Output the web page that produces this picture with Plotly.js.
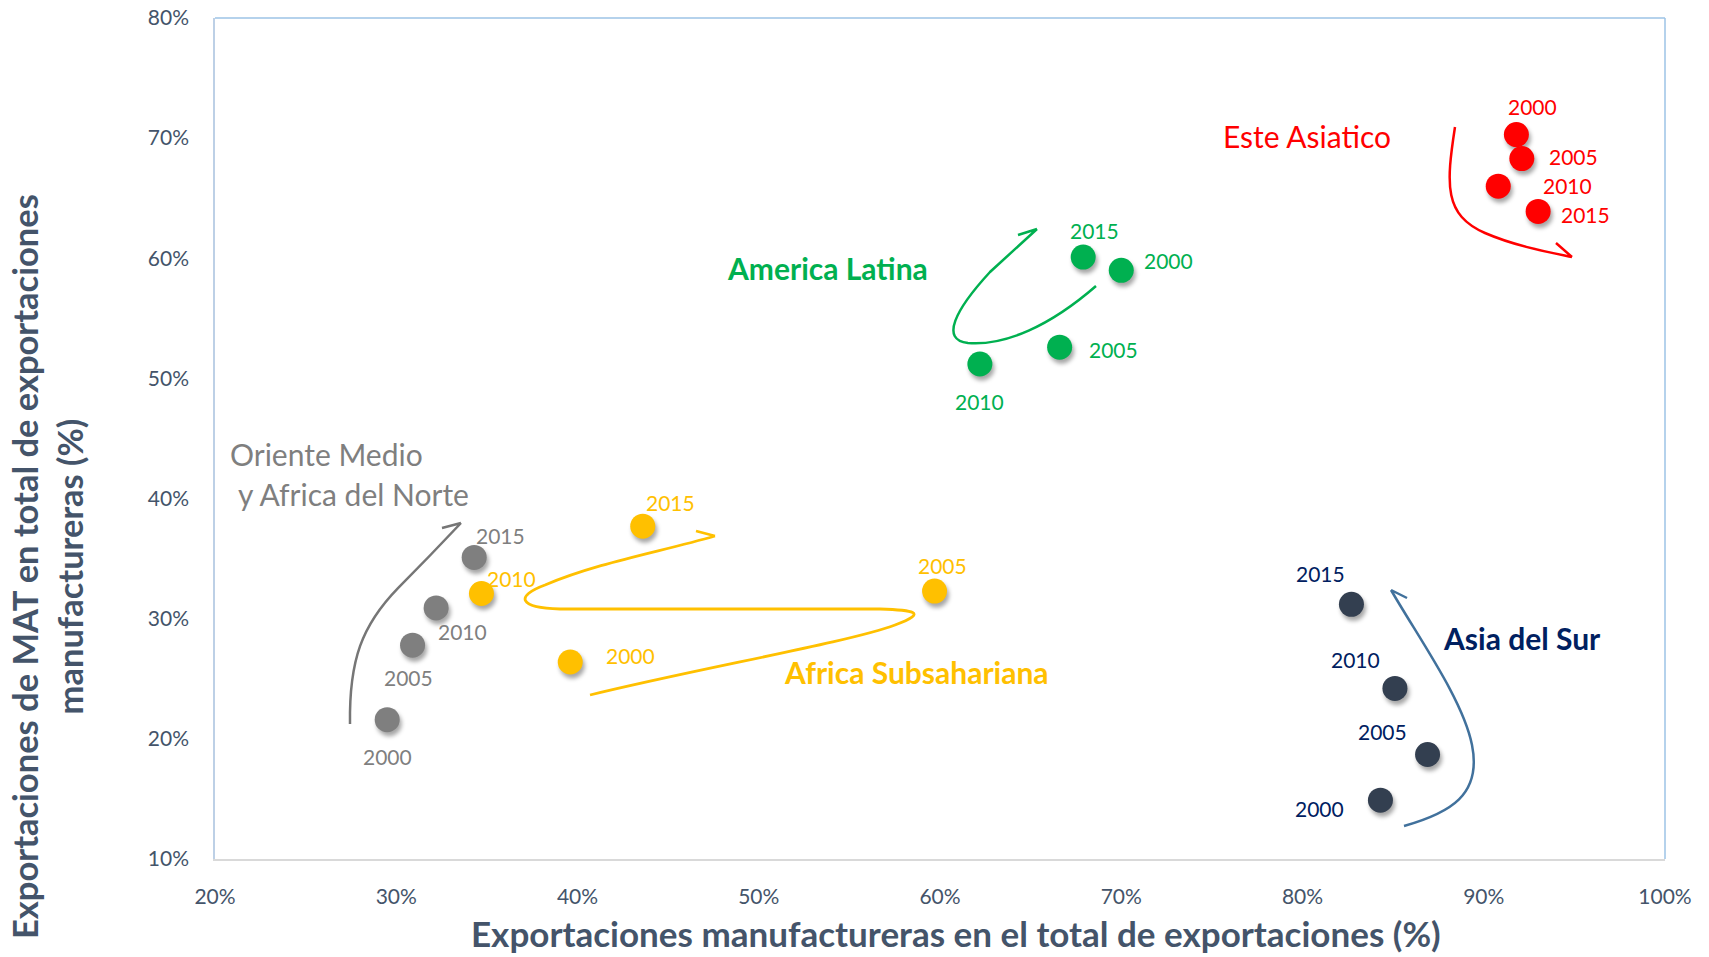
<!DOCTYPE html>
<html>
<head>
<meta charset="utf-8">
<script src="https://cdn.plot.ly/plotly-3.0.1.min.js"></script>
<style>
  html, body { margin: 0; padding: 0; background: #fff; }
  #chart { width: 1709px; height: 957px; }
  .scatterlayer .point { filter: drop-shadow(2px 4px 2px rgba(0,0,0,0.35)); }
</style>
</head>
<body>
<div id="chart"></div>
<script>
// ---------------- DATA ----------------
const years = ['2000', '2005', '2010', '2015'];

const regionNames = ['Oriente Medio y Africa del Norte', 'Africa Subsahariana', 'America Latina', 'Este Asiatico', 'Asia del Sur'];

const omanX = [29.5, 30.9, 32.2, 34.3];
const omanY = [21.6, 27.8, 30.9, 35.1];

const assX = [39.6, 59.7, 34.7, 43.6];
const assY = [26.4, 32.3, 32.1, 37.7];

const alX = [70.0, 66.6, 62.2, 67.9];
const alY = [59.0, 52.6, 51.2, 60.1];

const eaX = [91.8, 92.1, 90.8, 93.0];
const eaY = [70.3, 68.3, 66.0, 63.9];

const asX = [84.3, 86.9, 85.1, 82.7];
const asY = [14.9, 18.7, 24.2, 31.2];

const xTickVals = [20, 30, 40, 50, 60, 70, 80, 90, 100];
const yTickVals = [10, 20, 30, 40, 50, 60, 70, 80];

// ---------------- STYLE ----------------
const FONT = 'Lato, "Open Sans", sans-serif';
const TXT = '#44546A';

const series = [
  {name: regionNames[0], x: omanX, y: omanY, marker: '#7F7F7F', label: '#7F7F7F',
   offs: [[0, 37], [-4, 32], [26, 24], [26, -22]]},
  {name: regionNames[1], x: assX, y: assY, marker: '#FFC000', label: '#FFC000',
   offs: [[60, -6], [8, -26], [30, -15], [28, -24]]},
  {name: regionNames[2], x: alX, y: alY, marker: '#00B050', label: '#00B050',
   offs: [[47, -10], [54, 2], [0, 37], [11, -27]]},
  {name: regionNames[3], x: eaX, y: eaY, marker: '#FF0000', label: '#FF0000',
   offs: [[16, -28], [52, -2], [69, -1], [47, 3]]},
  {name: regionNames[4], x: asX, y: asY, marker: '#333F50', label: '#002060',
   offs: [[-61, 8], [-45, -23], [-39, -29], [-31, -31]]}
];

// plot-area pixel frame (matches margins below) for drawing the hand-drawn arrows
const L = 215, R = 1665, T = 18, B = 859;
const fx = px => 20 + (px - L) / (R - L) * 80;
const fy = py => 80 - (py - T) / (B - T) * 70;
function path(segs) {
  return segs.map(s => s[0] + ' ' + s.slice(1).map(p => fx(p[0]).toFixed(3) + ',' + fy(p[1]).toFixed(3)).join(' ')).join(' ');
}
function arrowShape(segs, color, w) {
  return {type: 'path', xref: 'x', yref: 'y', path: path(segs), line: {color: color, width: w}, layer: 'above'};
}

const traces = series.map(s => ({
  type: 'scatter', mode: 'markers', name: s.name, x: s.x, y: s.y,
  marker: {size: 25, color: s.marker, line: {width: 0}},
  hoverinfo: 'x+y+name', showlegend: false
}));

const annotations = [];
series.forEach(s => {
  s.x.forEach((xv, i) => {
    annotations.push({x: xv, y: s.y[i], xref: 'x', yref: 'y', text: years[i], showarrow: false,
      xshift: s.offs[i][0], yshift: -s.offs[i][1], font: {family: FONT, size: 21, color: s.label}});
  });
});

function paperAnn(text, px, py, size, color, bold, anchor) {
  annotations.push({xref: 'paper', yref: 'paper', x: (px - L) / (R - L), y: (B - py) / (B - T),
    text: bold ? '<b>' + text + '</b>' : text, showarrow: false, xanchor: anchor || 'center', yanchor: 'middle',
    font: {family: FONT, size: size, color: color}});
}
paperAnn('Este Asiatico', 1307, 136, 30, '#FF0000', false);
paperAnn('America Latina', 827, 268, 30, '#00B050', true);
paperAnn('Oriente Medio', 228, 454, 30, '#7F7F7F', false, 'left');
paperAnn('y Africa del Norte', 236, 494, 30, '#7F7F7F', false, 'left');
paperAnn('Africa Subsahariana', 916, 672, 30, '#FFC000', true);
paperAnn('Asia del Sur', 1522, 638, 30, '#002060', true);

// axis titles
annotations.push({xref: 'paper', yref: 'paper', x: (956 - L) / (R - L), y: (B - 955) / (B - T),
  text: '<b>Exportaciones manufactureras en el total de exportaciones (%)</b>', showarrow: false,
  xanchor: 'center', yanchor: 'bottom', borderpad: 0, font: {family: FONT, size: 35, color: TXT}});
annotations.push({xref: 'paper', yref: 'paper', x: (47 - L) / (R - L), y: (B - 567) / (B - T),
  text: '<b>Exportaciones de MAT en total de exportaciones<br>manufactureras (%)</b>', showarrow: false,
  textangle: -90, xanchor: 'center', yanchor: 'middle', align: 'center',
  font: {family: FONT, size: 34.5, color: TXT}});

const shapes = [
  // top and right plot border
  {type: 'line', xref: 'paper', yref: 'paper', x0: 0, x1: 1, y0: 1, y1: 1, line: {color: '#9DC3E6', width: 1.5}},
  {type: 'line', xref: 'paper', yref: 'paper', x0: 1, x1: 1, y0: 0, y1: 1, line: {color: '#9DC3E6', width: 1.5}},
  // gray arrow
  arrowShape([['M', [350, 724]], ['C', [349, 660], [362, 625], [398, 588]], ['C', [420, 566], [445, 540], [461, 523]],
              ['M', [442, 528]], ['L', [461, 523], [455, 541]]], '#767676', 2.5),
  // yellow arrow
  arrowShape([['M', [590, 695]], ['C', [700, 668], [850, 642], [895, 625]], ['C', [930, 612], [912, 610], [880, 609]],
              ['L', [560, 609]], ['C', [518, 608], [515, 596], [545, 585]], ['C', [600, 562], [660, 552], [715, 536]],
              ['M', [696, 531]], ['L', [715, 536], [700, 550]]], '#FFC000', 2.8),
  // green arrow
  arrowShape([['M', [1096, 286]], ['C', [1050, 326], [1005, 346], [968, 343]], ['C', [940, 340], [955, 310], [990, 272]],
              ['L', [1037, 229]], ['M', [1018, 235]], ['L', [1037, 229], [1034, 248]]], '#00B050', 2.5),
  // red arrow
  arrowShape([['M', [1455, 127]], ['C', [1446, 185], [1444, 215], [1485, 233]], ['C', [1515, 246], [1548, 252], [1572, 257]],
              ['M', [1556, 243]], ['L', [1572, 257], [1552, 263]]], '#FF0000', 2.5),
  // navy arrow
  arrowShape([['M', [1404, 826]], ['C', [1450, 813], [1482, 795], [1472, 745]], ['C', [1463, 700], [1420, 640], [1391, 590]],
              ['M', [1407, 598]], ['L', [1391, 590], [1391, 609]]], '#41719C', 2.5)
];

const layout = {
  width: 1709, height: 957,
  margin: {l: L, r: 1709 - R, t: T, b: 957 - B},
  paper_bgcolor: '#ffffff', plot_bgcolor: '#ffffff',
  font: {family: FONT, color: TXT},
  showlegend: false,
  xaxis: {range: [20, 100], tickvals: xTickVals, ticktext: xTickVals.map(v => v + '%'),
    showgrid: false, zeroline: false, showline: true, linecolor: '#D9D9D9', linewidth: 1.5,
    ticks: '', ticklabelstandoff: 18, tickfont: {family: FONT, size: 21, color: TXT}, fixedrange: true},
  yaxis: {range: [10, 80], tickvals: yTickVals, ticktext: yTickVals.map(v => v + '%'),
    showgrid: false, zeroline: false, showline: true, linecolor: '#BDD0E6', linewidth: 1.5,
    ticks: '', ticklabelstandoff: 20, tickfont: {family: FONT, size: 21, color: TXT}, fixedrange: true},
  shapes: shapes,
  annotations: annotations
};

Plotly.newPlot('chart', traces, layout, {displayModeBar: false});
</script>
</body>
</html>
